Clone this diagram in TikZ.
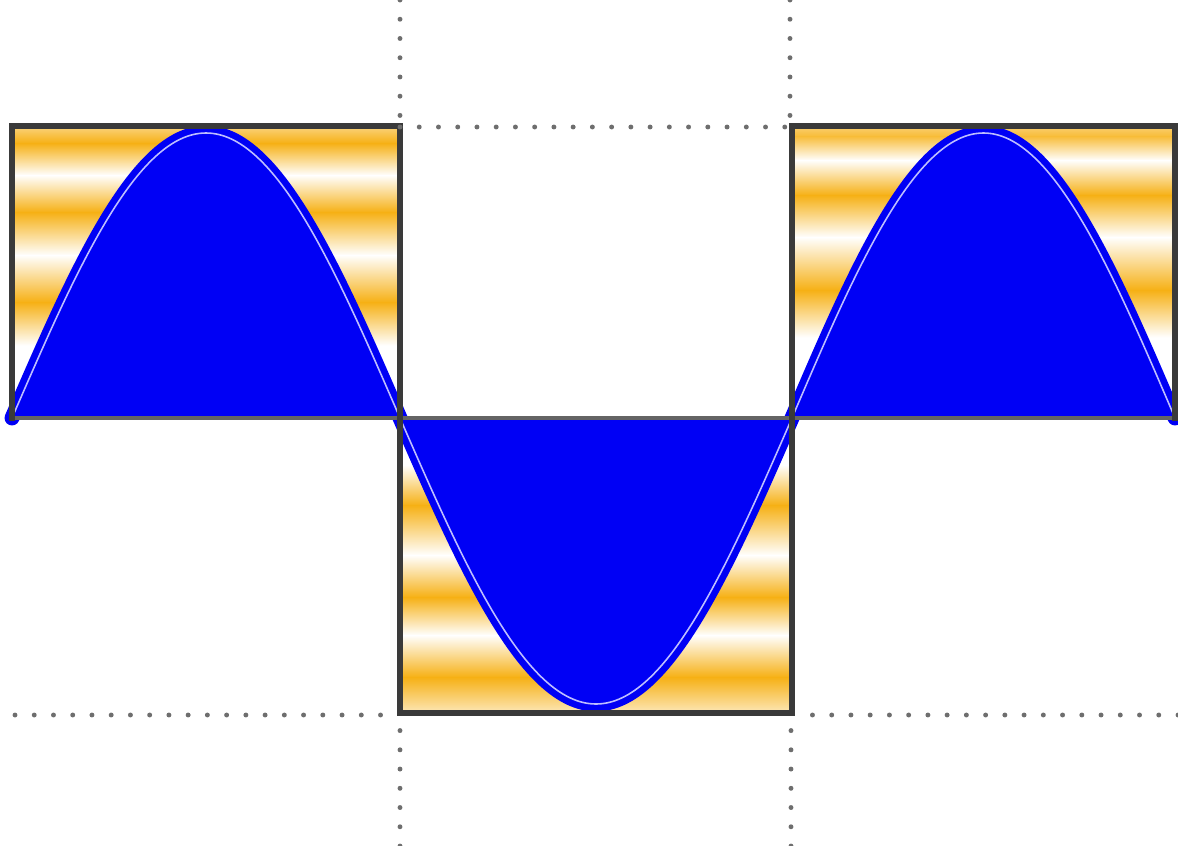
\documentclass[tikz,border=0pt]{standalone}
\usepackage{tikz}
\definecolor{Ob}{RGB}{246,176,20}
\definecolor{boxc}{RGB}{58,58,58}
\definecolor{axisc}{RGB}{100,100,100}
\definecolor{dotc}{RGB}{110,110,110}
\definecolor{sinb}{RGB}{0,0,245}
\definecolor{sinw}{RGB}{190,190,255}
\newcommand\myband[6]{\shade[top color=#5,bottom color=#6] (#1,#3) rectangle (#2,#4);}
\tikzset{
  boxline/.style={draw=boxc,line width=2.9pt,line cap=rect},
  axisline/.style={draw=axisc,line width=2.3pt},
  dotline/.style={draw=dotc,line width=2.8pt,line cap=round,dash pattern=on 0pt off 10.95pt},
  sinfill/.style={fill=sinb},
  sinstroke/.style={draw=sinb,line width=8.5pt,line cap=round},
  sinwhite/.style={draw=sinw,line width=0.9pt}
}
\begin{document}
\begin{tikzpicture}[x=0.02cm,y=-0.02cm]
\useasboundingbox (0,0) rectangle (1178,846);
% left box bands
\myband{12}{400}{126}{143.5}{Ob!55}{Ob}
\myband{12}{400}{143}{175.5}{Ob}{white}
\myband{12}{400}{175}{212.5}{white}{Ob}
\myband{12}{400}{212}{255.5}{Ob}{white}
\myband{12}{400}{255}{302.5}{white}{Ob}
\myband{12}{400}{302}{345.5}{Ob}{white}
% right box bands
\myband{792}{1175}{126}{136.5}{Ob!60}{Ob!85}
\myband{792}{1175}{136}{160.5}{Ob!85}{white}
\myband{792}{1175}{160}{195.5}{white}{Ob}
\myband{792}{1175}{195}{237.5}{Ob}{white}
\myband{792}{1175}{237}{290.5}{white}{Ob}
\myband{792}{1175}{290}{337.5}{Ob}{white}
% middle box bands
\myband{400}{792}{465}{505.5}{white}{Ob}
\myband{400}{792}{505}{555.5}{Ob}{white}
\myband{400}{792}{555}{597.5}{white}{Ob}
\myband{400}{792}{597}{635.5}{Ob}{white}
\myband{400}{792}{635}{677.5}{white}{Ob}
\myband{400}{792}{677}{713}{Ob}{Ob!30}
% sine
\coordinate (z0) at (12,418);
\coordinate (p1) at (206,133);
\coordinate (z1) at (400,418);
\coordinate (t1) at (596,704);
\coordinate (z2) at (792,418);
\coordinate (p2) at (983.5,133);
\coordinate (z3) at (1175,418);
\fill[sinfill] (z0) sin (p1) cos (z1) -- cycle;
\fill[sinfill] (z1) sin (t1) cos (z2) -- cycle;
\fill[sinfill] (z2) sin (p2) cos (z3) -- cycle;
\draw[sinstroke] (z0) sin (p1) cos (z1) sin (t1) cos (z2) sin (p2) cos (z3);
\draw[sinwhite] (z0) sin (p1) cos (z1) sin (t1) cos (z2) sin (p2) cos (z3);
% axis
\draw[axisline] (z0) -- (z3);
% boxes
\draw[boxline] (12,418) -- (12,126) -- (400,126) -- (400,713) -- (792,713) -- (792,126) -- (1175,126) -- (1175,418);
% dotted guides
\draw[dotline] (400,0) -- (400,122);
\draw[dotline] (790,0) -- (790,122);
\draw[dotline] (400,127) -- (790,127);
\draw[dotline] (400,846) -- (400,717);
\draw[dotline] (791,846) -- (791,717);
\draw[dotline] (15,715) -- (396,715);
\draw[dotline] (1178,715) -- (797,715);
\end{tikzpicture}
\end{document}
